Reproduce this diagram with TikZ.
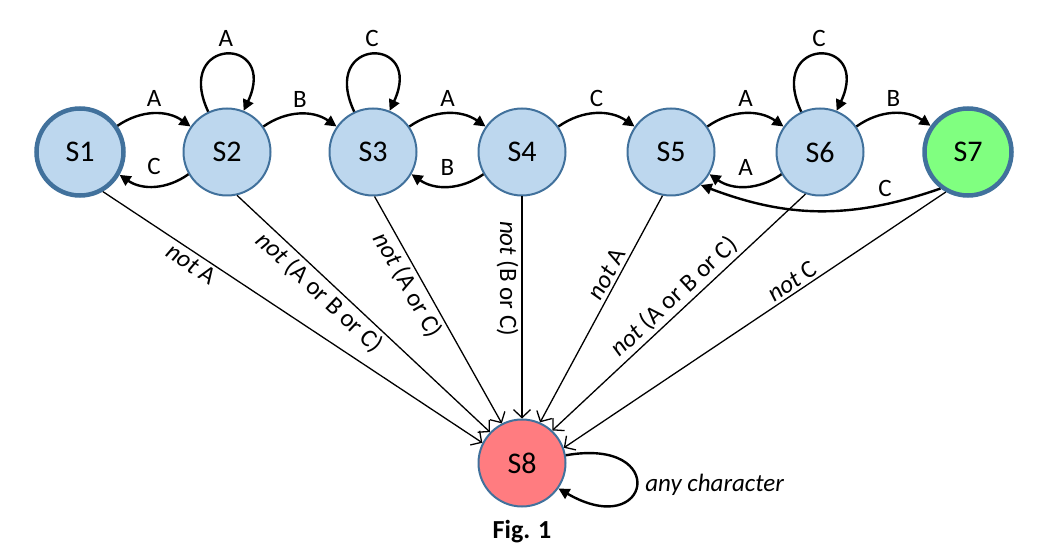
\documentclass[tikz,border=0pt]{standalone}
\usepackage{fontspec}
\setmainfont{Carlito}
\usetikzlibrary{arrows.meta}
\definecolor{sblue}{HTML}{BDD7EE}
\definecolor{sborder}{HTML}{41719C}
\definecolor{sgreen}{HTML}{80FF80}
\definecolor{sred}{HTML}{FF7C80}
\begin{document}
\begin{tikzpicture}[x=1pt,y=1pt,
  state/.style={circle, minimum size=87pt, inner sep=0pt, draw=sborder, line width=2pt, fill=sblue, font=\fontsize{30}{34}\selectfont},
  final/.style={line width=4.5pt},
  arc/.style={line width=2.4pt, -{Triangle[length=11pt,width=11pt]}},
  fail/.style={line width=1.3pt, -{Straight Barb[length=8pt,width=17pt]}},
  lbl/.style={font=\fontsize{25}{30}\selectfont, inner sep=2pt},
  flbl/.style={font=\fontsize{25}{30}\selectfont, inner sep=3pt},
]
\useasboundingbox (0,0) rectangle (1039,555);

\node[state, fill=sred] (S8) at (522,92) {S8};
\node[state, final] (S1) at (80,403) {S1};
\node[state] (S2) at (227,403) {S2};
\node[state] (S3) at (373,403) {S3};
\node[state] (S4) at (522,403) {S4};
\node[state] (S5) at (671,403) {S5};
\node[state] (S6) at (820,403) {S6};
\node[state, final, fill=sgreen] (S7) at (968,403) {S7};

% fail transitions to S8
\draw[fail] (S1.-60) -- node[flbl, sloped, below, pos=.25]{\textit{not} A} (S8.153);
\draw[fail] (S2.-77) -- node[flbl, sloped, below, pos=.365]{\textit{not} (A or B or C)} (S8.136);
\draw[fail] (S3.-88) -- node[flbl, sloped, below, pos=.36]{\textit{not} (A or C)} (S8.117);
\draw[fail] (S4.south) -- node[flbl, rotate=-90, anchor=north, pos=.37]{\textit{not} (B or C)} (S8.north);
\draw[fail] (S5.-101) -- node[flbl, sloped, above, pos=.37]{\textit{not} A} (S8.66);
\draw[fail] (S6.-109) -- node[flbl, sloped, above, pos=.48]{\textit{not} (A or B or C)} (S8.47);
\draw[fail] (S7.-119) -- node[flbl, sloped, above, pos=.386]{\textit{not} C} (S8.20);

% forward arcs
\draw[arc] (S1.35) to[bend left=35] node[lbl, above=4pt]{A} (S2.145);
\draw[arc] (S2.35) to[bend left=35] node[lbl, above=4pt]{B} (S3.145);
\draw[arc] (S3.35) to[bend left=35] node[lbl, above=4pt]{A} (S4.145);
\draw[arc] (S4.35) to[bend left=35] node[lbl, above=4pt]{C} (S5.145);
\draw[arc] (S5.35) to[bend left=35] node[lbl, above=4pt]{A} (S6.145);
\draw[arc] (S6.35) to[bend left=35] node[lbl, above=4pt]{B} (S7.145);

% backward arcs
\draw[arc] (S2.210) to[bend left=35] node[lbl, above=8pt]{C} (S1.-30);
\draw[arc] (S4.210) to[bend left=35] node[lbl, above=8pt]{B} (S3.-30);
\draw[arc] (S6.210) to[bend left=35] node[lbl, above=8pt]{A} (S5.-30);
\draw[arc] (S7.-127) to[bend left=20] node[lbl, above=4pt, pos=0.22]{C} (S5.-48);

% self loops
\draw[arc] (S2.115) to[out=115, in=65, looseness=6] node[lbl, above=5pt]{A} (S2.68);
\draw[arc] (S3.115) to[out=115, in=65, looseness=6] node[lbl, above=5pt]{C} (S3.68);
\draw[arc] (S6.115) to[out=115, in=65, looseness=6] node[lbl, above=5pt]{C} (S6.68);
\draw[arc] (S8.10) to[out=10, in=-30, looseness=8] node[lbl, right=6pt]{\itshape any character} (S8.-35);

\node[font=\bfseries\fontsize{26}{30}\selectfont] (fig) at (522,23) {Fig. 1};
\end{tikzpicture}
\end{document}
